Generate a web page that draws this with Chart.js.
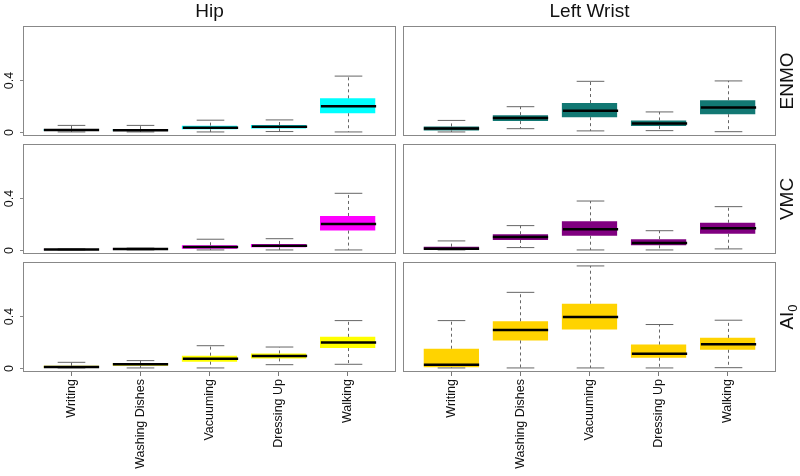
<!DOCTYPE html>
<html>
<head>
<meta charset="utf-8">
<script src="https://cdn.jsdelivr.net/npm/chart.js@4.4.1/dist/chart.umd.min.js"></script>
<style>
  body { margin: 0; background: #fff; }
  #wrap { position: relative; width: 800px; height: 476px; overflow: hidden; }
  canvas { position: absolute; }
</style>
</head>
<body>
<div id="wrap"></div>
<script>
const categories = ['Writing', 'Washing Dishes', 'Vacuuming', 'Dressing Up', 'Walking'];
const columnTitles = ['Hip', 'Left Wrist'];
const rowLabels = ['ENMO', 'VMC', 'AI'];
const rowSubscripts = ['', '', '0'];
const yTickValues = [0, 0.4];
const yTickLabels = ['0', '0.4'];

// each entry: [lower whisker, Q1, median, Q3, upper whisker]
const hipEnmo = [
  [0, 0.008, 0.015, 0.023, 0.05],
  [0, 0.007, 0.013, 0.021, 0.05],
  [0, 0.02, 0.032, 0.048, 0.09],
  [0.003, 0.027, 0.04, 0.053, 0.092],
  [0, 0.143, 0.196, 0.257, 0.427]
];
const wristEnmo = [
  [0, 0.012, 0.027, 0.042, 0.088],
  [0.025, 0.083, 0.106, 0.128, 0.193],
  [0.008, 0.113, 0.163, 0.221, 0.387],
  [0.01, 0.045, 0.065, 0.088, 0.153],
  [0.002, 0.136, 0.186, 0.242, 0.39]
];
const hipVmc = [
  [0, 0.001, 0.003, 0.005, 0.008],
  [0, 0.004, 0.008, 0.011, 0.014],
  [0, 0.01, 0.023, 0.036, 0.082],
  [0, 0.02, 0.033, 0.046, 0.086],
  [0, 0.148, 0.198, 0.26, 0.433]
];
const wristVmc = [
  [0, 0.002, 0.01, 0.025, 0.069],
  [0.018, 0.076, 0.099, 0.12, 0.186],
  [0, 0.109, 0.158, 0.219, 0.374],
  [0, 0.036, 0.053, 0.082, 0.147],
  [0.008, 0.124, 0.165, 0.208, 0.331]
];
const hipAi = [
  [0, 0.002, 0.008, 0.017, 0.043],
  [0, 0.017, 0.028, 0.038, 0.056],
  [0, 0.048, 0.071, 0.094, 0.17],
  [0.025, 0.073, 0.091, 0.111, 0.16],
  [0.028, 0.152, 0.195, 0.238, 0.362]
];
const wristAi = [
  [0, 0.005, 0.025, 0.147, 0.362],
  [0, 0.21, 0.291, 0.357, 0.578],
  [0, 0.294, 0.39, 0.491, 0.78],
  [0, 0.078, 0.109, 0.179, 0.332],
  [0.002, 0.139, 0.182, 0.23, 0.365]
];

const FONT = 'Liberation Sans, Arial, Helvetica, sans-serif';
const wrap = document.getElementById('wrap');

function makePanel(row, col, stats, color) {
  const isLeft = col === 0;
  const isTop = row === 0;
  const isBottom = row === 2;

  const canvas = document.createElement('canvas');
  const left = isLeft ? 0 : 401;
  const width = isLeft ? 398 : 399;
  const top = [0, 142, 260][row];
  const height = [138, 114, 216][row];
  canvas.width = width;
  canvas.height = height;
  canvas.style.left = left + 'px';
  canvas.style.top = top + 'px';
  wrap.appendChild(canvas);

  const xScale = {
    type: 'linear',
    min: 0.3,
    max: 5.7,
    offset: false,
    display: isBottom,
    afterBuildTicks: s => { s.ticks = categories.map((c, i) => ({ value: i + 1 })); },
    grid: { display: true, offset: false, drawOnChartArea: false, drawTicks: true, tickLength: 4, color: '#777' },
    border: { display: false },
    ticks: {
      autoSkip: false,
      minRotation: 90,
      maxRotation: 90,
      padding: 3,
      color: '#111',
      font: { family: FONT, size: 12.5 },
      callback: v => categories[v - 1]
    }
  };
  if (isBottom) xScale.afterFit = s => { s.height = 104; };

  const boxes = {
    id: 'boxes',
    afterDatasetsDraw(chart) {
      const { ctx, scales: { x, y } } = chart;
      const bars = chart.getDatasetMeta(0).data;
      stats.forEach((s, i) => {
        const cx = Math.round(x.getPixelForValue(i + 1)) + 0.5;
        const w = bars[i].width;
        const yLo = y.getPixelForValue(s[0]);
        const yQ1 = y.getPixelForValue(s[1]);
        const yMed = y.getPixelForValue(s[2]);
        const yQ3 = y.getPixelForValue(s[3]);
        const yHi = y.getPixelForValue(s[4]);
        ctx.save();
        ctx.strokeStyle = '#666';
        ctx.lineWidth = 1;
        ctx.setLineDash([3, 3]);
        ctx.beginPath();
        ctx.moveTo(cx, yQ3); ctx.lineTo(cx, yHi);
        ctx.moveTo(cx, yQ1); ctx.lineTo(cx, yLo);
        ctx.stroke();
        ctx.setLineDash([]);
        ctx.beginPath();
        ctx.moveTo(cx - w / 4, yHi); ctx.lineTo(cx + w / 4, yHi);
        ctx.moveTo(cx - w / 4, yLo); ctx.lineTo(cx + w / 4, yLo);
        ctx.stroke();
        ctx.strokeStyle = '#000';
        ctx.lineWidth = 2.5;
        ctx.beginPath();
        ctx.moveTo(cx - w / 2, yMed); ctx.lineTo(cx + w / 2, yMed);
        ctx.stroke();
        ctx.restore();
      });
    }
  };

  const frame = {
    id: 'frame',
    afterDraw(chart) {
      const { ctx, chartArea: a, scales: { y } } = chart;
      ctx.save();
      ctx.strokeStyle = '#888';
      ctx.lineWidth = 1;
      ctx.strokeRect(a.left + 0.5, a.top + 0.5, a.right - a.left - 1, a.bottom - a.top - 1);
      ctx.fillStyle = '#111';
      if (isLeft) {
        ctx.font = '12.5px ' + FONT;
        ctx.textAlign = 'center';
        ctx.textBaseline = 'middle';
        yTickValues.forEach((v, i) => {
          const py = Math.round(y.getPixelForValue(v)) + 0.5;
          ctx.beginPath();
          ctx.moveTo(a.left - 3, py); ctx.lineTo(a.left, py);
          ctx.stroke();
          ctx.save();
          ctx.translate(10, py);
          ctx.rotate(-Math.PI / 2);
          ctx.fillText(yTickLabels[i], 0, 0);
          ctx.restore();
        });
      } else {
        const main = rowLabels[row];
        const sub = rowSubscripts[row];
        ctx.font = '19px ' + FONT;
        const w1 = ctx.measureText(main).width;
        ctx.font = '13px ' + FONT;
        const w2 = sub ? ctx.measureText(sub).width : 0;
        ctx.save();
        ctx.translate(a.right + 12, (a.top + a.bottom) / 2);
        ctx.rotate(-Math.PI / 2);
        ctx.textAlign = 'left';
        ctx.textBaseline = 'middle';
        ctx.font = '19px ' + FONT;
        ctx.fillText(main, -(w1 + w2) / 2, 0);
        if (sub) {
          ctx.font = '13px ' + FONT;
          ctx.fillText(sub, -(w1 + w2) / 2 + w1, 5);
        }
        ctx.restore();
      }
      if (isTop) {
        ctx.font = '19px ' + FONT;
        ctx.textAlign = 'center';
        ctx.textBaseline = 'middle';
        ctx.fillText(columnTitles[col], (a.left + a.right) / 2, 12);
      }
      ctx.restore();
    }
  };

  return new Chart(canvas, {
    type: 'bar',
    data: {
      datasets: [{
        data: stats.map((s, i) => ({ x: i + 1, y: [s[1], s[3]] })),
        backgroundColor: color,
        borderWidth: 0,
        barPercentage: 0.8,
        categoryPercentage: 1
      }]
    },
    options: {
      responsive: false,
      animation: false,
      devicePixelRatio: 1,
      layout: {
        padding: {
          left: isLeft ? 23 : 2,
          right: isLeft ? 2 : 24,
          top: isTop ? 26 : 2,
          bottom: isBottom ? 0 : 2
        }
      },
      plugins: { legend: { display: false }, tooltip: { enabled: false } },
      scales: {
        x: xScale,
        y: { min: -0.031, max: 0.81, display: false }
      }
    },
    plugins: [boxes, frame]
  });
}

makePanel(0, 0, hipEnmo, '#00ffff');
makePanel(0, 1, wristEnmo, '#127873');
makePanel(1, 0, hipVmc, '#ff00ff');
makePanel(1, 1, wristVmc, '#800080');
makePanel(2, 0, hipAi, '#ffff00');
makePanel(2, 1, wristAi, '#ffd300');
</script>
</body>
</html>
